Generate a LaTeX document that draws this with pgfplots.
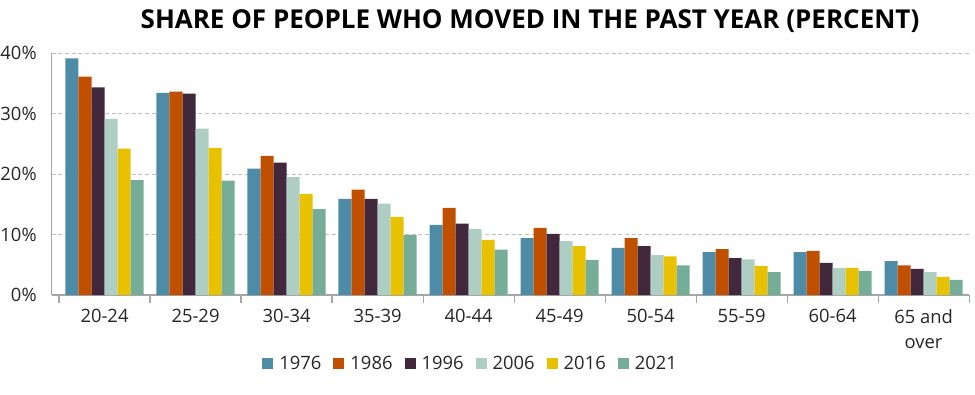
\documentclass[border=0pt]{standalone}
\usepackage{fontspec}
\setmainfont{Open Sans}
\usepackage{pgfplots}
\usepackage{pgfplotstable}
\pgfplotsset{compat=1.18}
\definecolor{c1}{HTML}{4E8BA7}
\definecolor{c2}{HTML}{C14F00}
\definecolor{c3}{HTML}{41283C}
\definecolor{c4}{HTML}{AECEC3}
\definecolor{c5}{HTML}{E8C100}
\definecolor{c6}{HTML}{76AD98}
\definecolor{txt}{HTML}{262626}
\pgfplotstableread{
x  a     b     c     d     e     f
0  39.1  36.1  34.3  29.1  24.2  19.0
1  33.4  33.6  33.3  27.5  24.3  18.9
2  20.9  23.0  21.9  19.5  16.7  14.2
3  15.9  17.4  15.9  15.1  12.9  9.9
4  11.6  14.4  11.8  10.9  9.1   7.5
5  9.4   11.1  10.1  8.9   8.1   5.8
6  7.8   9.4   8.1   6.6   6.4   4.9
7  7.1   7.6   6.1   5.9   4.8   3.8
8  7.1   7.3   5.3   4.5   4.5   4.0
9  5.6   4.9   4.3   3.8   3.0   2.5
}\data
\begin{document}
\begin{tikzpicture}
\begin{axis}[
  at={(38.8pt,74.25pt)}, anchor=south west,
  scale only axis, width=688pt, height=181.5pt,
  xmin=-0.58, xmax=9.5, ymin=0, ymax=40,
  ybar=0pt, bar width=0.143,
  /pgf/number format/assume math mode=true,
  xtick={0,...,9},
  xticklabels={20-24,25-29,30-34,35-39,40-44,45-49,50-54,55-59,60-64,{65 and\\over}},
  xticklabel style={align=center, font=\fontsize{13.8}{18.75}\selectfont, text=txt, anchor=north, yshift=-3pt},
  major x tick style={draw=none},
  minor xtick={-0.5,0.5,...,9.5},
  minor x tick style={draw=gray!70, line width=0.8pt},
  tick align=outside, minor tick length=6pt,
  ytick={0,10,20,30,40},
  yticklabel={\pgfmathprintnumber{\tick}\%},
  yticklabel style={font=\fontsize{13.8}{15}\selectfont, text=txt, xshift=-3.5pt},
  major y tick style={draw=none},
  ymajorgrids, grid style={densely dashed, draw=gray!50, line width=0.6pt},
  axis x line*=bottom, axis y line*=left,
  axis line style={draw=gray!70, line width=0.8pt, -},
  legend columns=6,
  legend style={at={(0.457,-0.285)}, anchor=center, draw=none, fill=none,
    font=\fontsize{13.8}{15}\selectfont, text=txt,
    /tikz/every odd column/.append style={column sep=2.5pt},
    /tikz/every even column/.append style={column sep=7pt}},
  legend image code/.code={\fill[#1] (0pt,-4.1pt) rectangle (8.25pt,4.15pt);},
]
\addplot[fill=c1, draw=none] table[x=x,y=a]{\data};
\addplot[fill=c2, draw=none] table[x=x,y=b]{\data};
\addplot[fill=c3, draw=none] table[x=x,y=c]{\data};
\addplot[fill=c4, draw=none] table[x=x,y=d]{\data};
\addplot[fill=c5, draw=none] table[x=x,y=e]{\data};
\addplot[fill=c6, draw=none] table[x=x,y=f]{\data};
\legend{1976,1986,1996,2006,2016,2021}
\end{axis}
\node[font=\bfseries\fontsize{19.5}{22}\selectfont, text=black] at (397.5pt,279.5pt) {SHARE OF PEOPLE WHO MOVED IN THE PAST YEAR (PERCENT)};
\pgfresetboundingbox
\path (0,0) rectangle (731.25pt,295.5pt);
\end{tikzpicture}
\end{document}
